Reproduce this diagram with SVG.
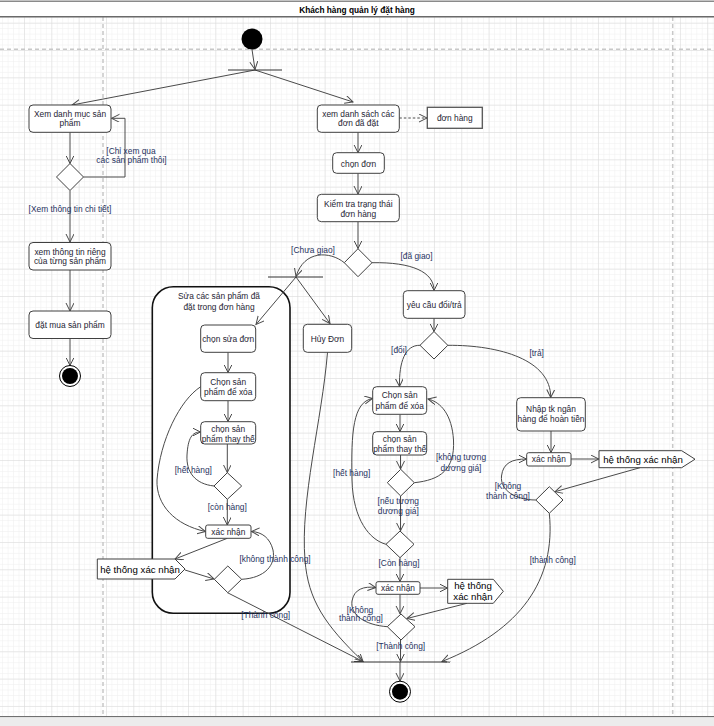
<svg xmlns="http://www.w3.org/2000/svg" width="714" height="726" viewBox="0 0 714 726">
  <defs>
    <pattern id="minor" x="24" y="22.7" width="5.466" height="5.466" patternUnits="userSpaceOnUse">
      <path d="M0,0 V5.466 M0,0 H5.466" stroke="#eeeeee" stroke-width="1" fill="none"/>
    </pattern>
    <pattern id="major" x="24" y="22.7" width="27.33" height="27.33" patternUnits="userSpaceOnUse">
      <path d="M0,0 V27.33 M0,0 H27.33" stroke="#d9d9d9" stroke-width="1" fill="none"/>
    </pattern>
    <marker id="arr" markerWidth="10" markerHeight="10" refX="8" refY="4" orient="auto" markerUnits="userSpaceOnUse">
      <path d="M0,0 L8,4 L0,8" fill="none" stroke="#4a4a4a" stroke-width="1"/>
    </marker>
    <style>
      .bg { fill: #ffffff; }
      .dash { stroke: #c8c8c8; stroke-width: 1.5; stroke-dasharray: 4 3; fill: none; }
      .box { fill: #ffffff; stroke: #404040; stroke-width: 1; }
      .obj { fill: #ffffff; stroke: #555555; stroke-width: 1.3; }
      .dia { fill: #ffffff; stroke: #404040; stroke-width: 1; }
      .bar { stroke: #303030; stroke-width: 1.2; }
      .c { fill: none; stroke: #4a4a4a; stroke-width: 1; marker-end: url(#arr); }
      .cd { fill: none; stroke: #4a4a4a; stroke-width: 1; stroke-dasharray: 2.5 2; marker-end: url(#arr); }
      .region { fill: #ffffff; stroke: #111111; stroke-width: 1.6; }
      text { font-family: "Liberation Sans", Arial, sans-serif; text-anchor: middle; }
      .t { font-size: 8.4px; fill: #1e2433; }
      .g { font-size: 8.4px; fill: #1f3260; }
      .s { font-size: 9.7px; fill: #000000; }
      .title { font-size: 8.3px; font-weight: bold; fill: #000000; }
    </style>
  </defs>

  <!-- canvas and grid -->
  <rect class="bg" x="0" y="0" width="714" height="726"/>
  <rect x="0" y="17" width="714" height="700" fill="url(#minor)"/>
  <rect x="0" y="17" width="714" height="700" fill="url(#major)"/>
  <path class="dash" d="M0,49.3 H714 M103,17 V716 M672.7,17 V716"/>

  <!-- title bar and frame -->
  <g id="title">
    <rect x="0" y="1" width="714" height="16" fill="#ffffff"/>
    <line x1="0" y1="1.2" x2="714" y2="1.2" stroke="#8a8a8a" stroke-width="1.5"/>
    <line x1="0" y1="16.8" x2="714" y2="16.8" stroke="#6a6a6a" stroke-width="1.6"/>
    <text class="title" x="357" y="12.5">Khách hàng quản lý đặt hàng</text>
  </g>
  <line x1="0" y1="716.7" x2="714" y2="716.7" stroke="#707070" stroke-width="1.2"/>
  <rect x="0" y="717.5" width="714" height="8.5" fill="#ececec"/>

  <!-- sub-activity region -->
  <g id="region_edit">
    <rect class="region" x="152.3" y="286.7" width="137.7" height="326.6" rx="21"/>
    <text class="t" x="219" y="299">Sửa các sản phẩm đã</text>
    <text class="t" x="219" y="309.8">đặt trong đơn hàng</text>
  </g>

  <!-- connectors -->
  <g id="connectors">
    <path class="c" d="M252,49.5 L255,69.5"/>
    <path class="c" d="M255,70 L72,105"/>
    <path class="c" d="M255,70 L353,102"/>
    <path class="c" d="M70,132.3 V163.5"/>
    <path class="c" d="M83.5,177 H125 V118.3 H111.5"/>
    <path class="c" d="M70,190.5 V242"/>
    <path class="c" d="M70,270 V311"/>
    <path class="c" d="M70,338.5 V365.5"/>
    <path class="cd" d="M399.3,118 H427"/>
    <path class="c" d="M358,132.3 V152.7"/>
    <path class="c" d="M358,173.3 V194"/>
    <path class="c" d="M358,221.7 V248.5"/>
    <path class="c" d="M344.3,262.7 C330,251 304,250 296,276.5"/>
    <path class="c" d="M296,277 L256,324.5"/>
    <path class="c" d="M296,277 L330,323.5"/>
    <path class="c" d="M372,262.7 C412,262 434,272 434,290.5"/>
    <path class="c" d="M434,318.3 V331.5"/>
    <path class="c" d="M420,345.3 C405,345 399,362 399.5,386.5"/>
    <path class="c" d="M447.8,345.3 C500,345 551,360 550.7,397.5"/>
    <path class="c" d="M400,414.5 V431.5"/>
    <path class="c" d="M400.5,455 V469"/>
    <path class="c" d="M414.3,482.7 C440,480 455,470 453.5,440 C452,415 441,402 428,399"/>
    <path class="c" d="M400.5,496 V530.8"/>
    <path class="c" d="M386,544.3 C370,540 353,520 352,480 C351,432 353,402 372.5,398.5"/>
    <path class="c" d="M400,557.7 V581.5"/>
    <path class="c" d="M420,588 H447.5"/>
    <path class="c" d="M467,603.3 L407,618.5"/>
    <path class="c" d="M400,594.5 V613.8"/>
    <path class="c" d="M387.3,626.7 C365,625 350,615 352,601 C354,589 364,586 375.8,587.5"/>
    <path class="c" d="M400.5,640 V661.5"/>
    <path class="c" d="M400,662 V681"/>
    <path class="c" d="M327.5,352.3 C322,420 300,500 305,560 C308,600 325,625 363,661.5"/>
    <path class="c" d="M227.5,592.7 L363,661.5"/>
    <path class="c" d="M549.3,513.3 C556,580 521,630 442,661.5"/>
    <path class="c" d="M551,431 V452.5"/>
    <path class="c" d="M571,459 H598.8"/>
    <path class="c" d="M640,467.7 L555,491.7"/>
    <path class="c" d="M535.8,500 C515,500 500,490 501.5,476 C503,463 512,459 526.5,459"/>
    <path class="c" d="M228,352.3 V372.5"/>
    <path class="c" d="M228,400.7 V421.5"/>
    <path class="c" d="M227.3,444 V472.5"/>
    <path class="c" d="M214,486 C195,484 186,472 187,455 C188,438 192,432 200.5,432"/>
    <path class="c" d="M200.7,386.7 C180,400 160,440 157,480 C156,505 175,525 205.5,531.5"/>
    <path class="c" d="M227.3,499.3 V525"/>
    <path class="c" d="M227.3,538.3 L175,559"/>
    <path class="c" d="M185,570 L214,579"/>
    <path class="c" d="M241.7,579.3 C265,578 276,565 273,550 C270,538 262,532 251.5,531.5"/>

    <!-- guard labels -->
    <g id="guards">
      <text class="g" x="131" y="153.5">[Chỉ xem qua</text>
      <text class="g" x="131.5" y="163">các sản phẩm thôi]</text>
      <text class="g" x="70" y="211.5">[Xem thông tin chi tiết]</text>
      <text class="g" x="313" y="252.5">[Chưa giao]</text>
      <text class="g" x="416.5" y="259">[đã giao]</text>
      <text class="g" x="399" y="352.5">[đổi]</text>
      <text class="g" x="536.7" y="356">[trả]</text>
      <text class="g" x="461" y="460">[không tương</text>
      <text class="g" x="461" y="471">dương giá]</text>
      <text class="g" x="351.7" y="476">[hết hàng]</text>
      <text class="g" x="398.3" y="504">[nếu tương</text>
      <text class="g" x="398.3" y="514">dương giá]</text>
      <text class="g" x="399" y="565.5">[Còn hàng]</text>
      <text class="g" x="360" y="612.5">[Không</text>
      <text class="g" x="361" y="621">thành công]</text>
      <text class="g" x="400.7" y="648.5">[Thành công]</text>
      <text class="g" x="508" y="489">[Không</text>
      <text class="g" x="508" y="499">thành công]</text>
      <text class="g" x="552.7" y="563">[thành công]</text>
      <text class="g" x="193.3" y="472.5">[hết hàng]</text>
      <text class="g" x="227.3" y="510">[còn hàng]</text>
      <text class="g" x="275" y="562">[không thành công]</text>
      <text class="g" x="265.7" y="618">[Thành công]</text>
    </g>
  </g>

  <!-- control nodes -->
  <g id="start"><circle cx="252" cy="39" r="10.5" fill="#000000"/></g>
  <g id="fork_main"><line class="bar" x1="228" y1="70" x2="282" y2="70"/></g>
  <g id="fork_pending"><line class="bar" x1="268" y1="277" x2="323" y2="277"/></g>
  <g id="join_end"><line class="bar" x1="351" y1="662" x2="447" y2="662"/></g>
  <g id="end_left">
    <circle cx="70" cy="376" r="10.5" fill="#ffffff" stroke="#000000" stroke-width="1"/>
    <circle cx="70" cy="376" r="8" fill="#000000"/>
  </g>
  <g id="end_main">
    <circle cx="400" cy="691.7" r="10.5" fill="#ffffff" stroke="#000000" stroke-width="1"/>
    <circle cx="400" cy="691.7" r="8" fill="#000000"/>
  </g>

  <!-- decisions -->
  <g id="dec_browse"><polygon class="dia" points="70,163.5 83.5,177 70,190.5 56.5,177"/></g>
  <g id="dec_status"><polygon class="dia" points="358,248.7 372,262.7 358,276.7 344.3,262.7"/></g>
  <g id="dec_request"><polygon class="dia" points="434,331.5 447.8,345.3 434,359 420,345.3"/></g>
  <g id="dec_price"><polygon class="dia" points="400.7,469.3 414.3,482.7 400.7,496 387.3,482.7"/></g>
  <g id="dec_stock2"><polygon class="dia" points="400,531 414,544.3 400,557.7 386,544.3"/></g>
  <g id="dec_confirm2"><polygon class="dia" points="401,614 415,626.7 401,640 387.3,626.7"/></g>
  <g id="dec_confirm3"><polygon class="dia" points="549.3,486.7 563,500 549.3,513.3 535.8,500"/></g>
  <g id="dec_stock1"><polygon class="dia" points="227.3,472.7 241.7,486 227.3,499.3 214,486"/></g>
  <g id="dec_confirm1"><polygon class="dia" points="227.8,566 241.7,579.3 227.8,592.7 214.3,579.3"/></g>

  <!-- actions: browsing -->
  <g id="act_browse">
    <rect class="box" x="29" y="105" width="82" height="27.3" rx="4"/>
    <text class="t" x="70" y="116.5">Xem danh mục sản</text>
    <text class="t" x="70" y="126">phẩm</text>
  </g>
  <g id="act_detail">
    <rect class="box" x="29" y="242.5" width="82" height="27.5" rx="4"/>
    <text class="t" x="70" y="254.8">xem thông tin riêng</text>
    <text class="t" x="70" y="264">của từng sản phẩm</text>
  </g>
  <g id="act_buy">
    <rect class="box" x="29" y="311" width="82" height="27.5" rx="4"/>
    <text class="t" x="70" y="327.8">đặt mua sản phẩm</text>
  </g>

  <!-- actions: orders -->
  <g id="act_orders">
    <rect class="box" x="317.3" y="105" width="82" height="27.3" rx="4"/>
    <text class="t" x="358.3" y="116.5">xem danh sách các</text>
    <text class="t" x="358.3" y="126">đơn đã đặt</text>
  </g>
  <g id="obj_order">
    <rect class="obj" x="427.3" y="107.3" width="55" height="21"/>
    <text class="t" x="454.8" y="120.6">đơn hàng</text>
  </g>
  <g id="act_choose">
    <rect class="box" x="332.7" y="152.7" width="51.6" height="20.6" rx="4"/>
    <text class="t" x="358.5" y="166.5">chọn đơn</text>
  </g>
  <g id="act_check">
    <rect class="box" x="317.3" y="194.3" width="82" height="27.4" rx="4"/>
    <text class="t" x="358.3" y="206.5">Kiểm tra trạng thái</text>
    <text class="t" x="358.3" y="216.5">đơn hàng</text>
  </g>
  <g id="act_cancel">
    <rect class="box" x="303.3" y="324.3" width="48.4" height="28" rx="4"/>
    <text class="t" x="327.5" y="341.5">Hủy Đơn</text>
  </g>
  <g id="act_request">
    <rect class="box" x="403.3" y="290.7" width="61.7" height="27.6" rx="4"/>
    <text class="t" x="434.2" y="308">yêu cầu đổi/trả</text>
  </g>

  <!-- actions: exchange -->
  <g id="act_delete2">
    <rect class="box" x="372.7" y="386.7" width="54" height="27.6" rx="4"/>
    <text class="t" x="399.7" y="398.2">Chọn sản</text>
    <text class="t" x="399.7" y="408.8">phẩm để xóa</text>
  </g>
  <g id="act_replace2">
    <rect class="box" x="372.7" y="431.7" width="54" height="23.3" rx="4"/>
    <text class="t" x="399.7" y="442">chọn sản</text>
    <text class="t" x="399.7" y="452">phẩm thay thế</text>
  </g>
  <g id="act_confirm2">
    <rect class="box" x="376" y="581.7" width="44" height="12.6" rx="2"/>
    <text class="t" x="398" y="591.3">xác nhận</text>
  </g>
  <g id="sig_system2">
    <polygon class="box" points="447.7,579.3 493.3,579.3 503.3,591.3 493.3,603.3 447.7,603.3"/>
    <text class="s" x="473" y="588.8">hệ thống</text>
    <text class="s" x="473" y="600.3">xác nhận</text>
  </g>

  <!-- actions: refund -->
  <g id="act_refund">
    <rect class="box" x="516.7" y="397.7" width="68.6" height="33.3" rx="4"/>
    <text class="t" x="551" y="412.3">Nhập tk ngân</text>
    <text class="t" x="551" y="422.3">hàng để hoàn tiền</text>
  </g>
  <g id="act_confirm3">
    <rect class="box" x="526.7" y="452.7" width="44.3" height="13.3" rx="2"/>
    <text class="t" x="548.8" y="462.2">xác nhận</text>
  </g>
  <g id="sig_system3">
    <polygon class="box" points="599,450.7 681.7,450.7 695,459.2 681.7,467.7 599,467.7"/>
    <text class="s" x="643" y="462.6">hệ thống xác nhận</text>
  </g>

  <!-- actions: edit order -->
  <g id="act_edit">
    <rect class="box" x="200.7" y="325" width="55" height="27.3" rx="4"/>
    <text class="t" x="228.2" y="341.5">chọn sửa đơn</text>
  </g>
  <g id="act_delete1">
    <rect class="box" x="200.7" y="372.7" width="55" height="28" rx="4"/>
    <text class="t" x="228.2" y="385">Chọn sản</text>
    <text class="t" x="228.2" y="395">phẩm để xóa</text>
  </g>
  <g id="act_replace1">
    <rect class="box" x="200.7" y="421.7" width="55" height="22.3" rx="4"/>
    <text class="t" x="228.2" y="431.5">chọn sản</text>
    <text class="t" x="228.2" y="441.5">phẩm thay thế</text>
  </g>
  <g id="act_confirm1">
    <rect class="box" x="205.7" y="525" width="45.3" height="13.3" rx="2"/>
    <text class="t" x="228.3" y="534.5">xác nhận</text>
  </g>
  <g id="sig_system1">
    <polygon class="box" points="97.3,559 175,559 185,569 175,579 97.3,579"/>
    <text class="s" x="140" y="572.5">hệ thống xác nhận</text>
  </g>
</svg>
